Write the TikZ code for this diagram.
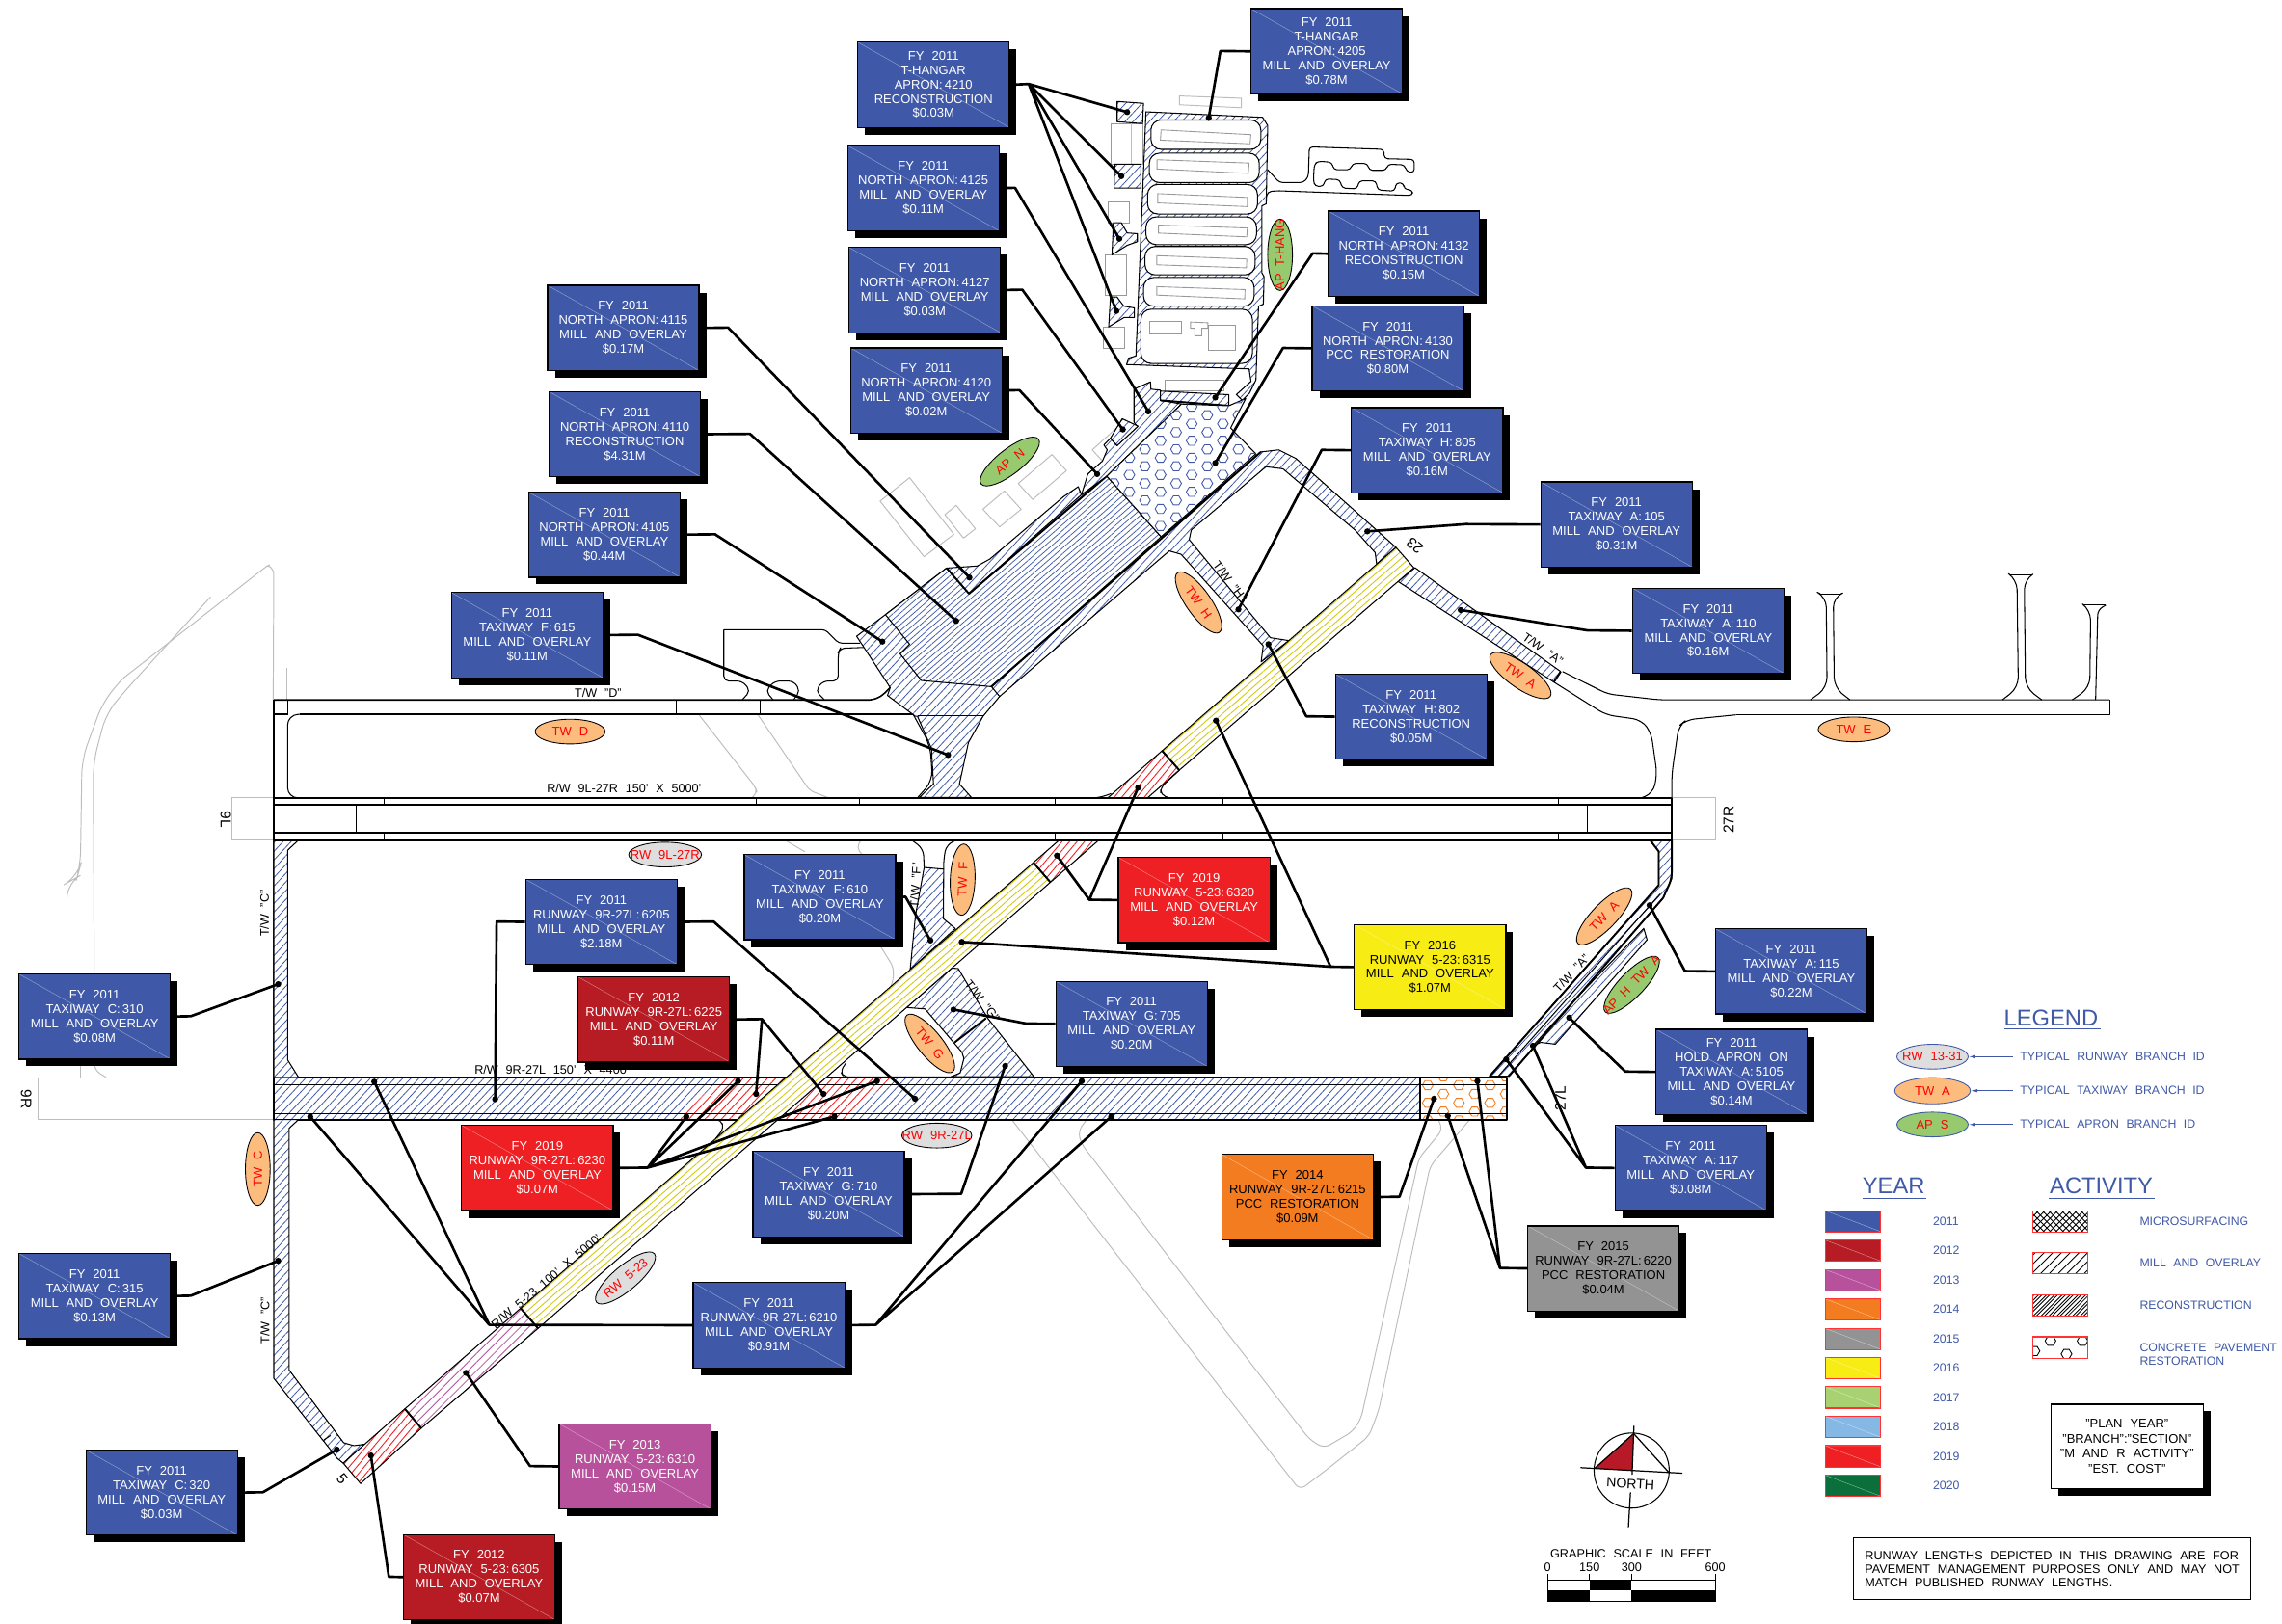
\documentclass[tikz,border=0pt]{standalone}
\usepackage{fontspec}
\setmainfont[WordSpace=2.2]{Liberation Sans}
\usetikzlibrary{shapes.geometric,patterns.meta,shadows,arrows.meta}
\definecolor{apblue}{HTML}{3F59A8}
\definecolor{cdred}{HTML}{B71C24}
\definecolor{cmag}{HTML}{B8519B}
\definecolor{corg}{HTML}{F47C20}
\definecolor{cgry}{HTML}{939393}
\definecolor{cyel}{HTML}{F7EC13}
\definecolor{cred}{HTML}{EE2024}
\definecolor{cgrn}{HTML}{A8D272}
\definecolor{clbl}{HTML}{85B8E5}
\definecolor{cdgn}{HTML}{0A6F3A}
\definecolor{ovorg}{HTML}{FCBC7E}
\definecolor{ovgrn}{HTML}{97CA6E}
\definecolor{ovgry}{HTML}{DEDEDE}
\definecolor{bggry}{HTML}{BDBDBD}
\newcommand\vu{0.030211cm}
\tikzset{
 x=\vu,y=-\vu,
 costbox/.style={rectangle,draw=black,line width=.7pt,fill=#1,minimum width=104*\vu,minimum height=58.5*\vu,inner sep=0pt,align=center,
   font=\fontsize{7.4}{8.5}\selectfont,text=white,
   drop shadow={shadow xshift=4.3pt,shadow yshift=-4.3pt,fill=black,opacity=1},
   path picture={\draw[white,opacity=.45,line width=.25pt] (path picture bounding box.north west)--(path picture bounding box.south east);}},
 conn/.style={line width=1.5pt,line join=round,black},
 pv/.style={draw=black,line width=.6pt,line join=round},
 pvt/.style={draw=black,line width=1.1pt,line join=round},
 gr/.style={draw=bggry,line width=.55pt,line join=round},
 bld/.style={draw=gray!80,line width=.5pt,fill=white},
 hatb/.style={pv,preaction={fill=white},pattern={Lines[angle=47,distance=3.5pt,line width=.45pt]},pattern color=apblue},
 hatd/.style={pv,preaction={fill=white},pattern={Lines[angle=41,distance=2.6pt,line width=.42pt]},pattern color=apblue},
 hatr/.style={pv,preaction={fill=white},pattern={Lines[angle=47,distance=3.5pt,line width=.5pt]},pattern color=cred},
 hatrr/.style={pv,preaction={fill=white},pattern={Lines[angle=50,distance=3.4pt,line width=.5pt]},pattern color=cred},
 haty/.style={pv,preaction={fill=white},pattern={Lines[angle=41,distance=3.1pt,line width=.5pt]},pattern color=cyel!85!black},
 hatm/.style={pv,preaction={fill=white},pattern={Lines[angle=45,distance=3.6pt,line width=.5pt]},pattern color=cmag},
 oval/.style={ellipse,draw=black,line width=.5pt,fill=#1,minimum width=49*\vu,minimum height=17*\vu,inner sep=0pt,text=red,font=\fontsize{7.4}{8}\selectfont},
 sm/.style={font=\fontsize{7.2}{8}\selectfont,inner sep=0pt},
 bg/.style={font=\fontsize{8.8}{9}\selectfont,inner sep=0pt},
 lg/.style={font=\fontsize{7}{8}\selectfont,inner sep=0pt,text=apblue,anchor=west,align=left},
 ttl/.style={font=\fontsize{13.5}{14}\selectfont,inner sep=0pt,text=apblue},
 ul/.style={draw=apblue,line width=.6pt},
 swb/.style={draw=red!80!white,line width=.6pt},
}
\newcommand\bx[6]{\node[costbox=#4,text=#5] (#1) at ({#2+52},{#3+29.25}) {#6};}
\newcommand\dt[3]{\coordinate (#1) at (#2,#3);\fill (#1) circle (2.1);}
\newcommand\ov[6]{\node[oval=#1,rotate=#4,minimum width=#5*\vu] (#6) at (#2,#3)}
\newcommand\hexa[3]{\draw[#1,line width=.5pt] ({#2-3.7},#3)--({#2-1.85},{#3-3.1})--({#2+1.85},{#3-3.1})--({#2+3.7},#3)--({#2+1.85},{#3+3.1})--({#2-1.85},{#3+3.1})--cycle;}
\begin{document}
\begin{tikzpicture}
\useasboundingbox (0,0) rectangle (1567,1114.85);
\fill[white] (0,0) rectangle (1567,1114.85);
% ---------- background gray lines
\draw[gr] (187.6,480.8)--(188,393)[rounded corners=2pt]--(185,388)--(183,389)--(83.9,466.4)[rounded corners=9pt]--(70.7,482)--(56.3,521.4)--(55.2,594.7)--(53,602.5)--(46,606.5)[sharp corners]--(46,668);
\draw[gr,rounded corners=9pt] (144.6,410)--(86.1,474.3)--(72.9,490)--(64,524)--(64.7,668);
\draw[gr] (197,458.6)--(197,480.8);
\draw[gr] (55.2,729)--(55.2,740);
\draw[gr,rounded corners=4pt] (64.7,730)--(64.7,735)--(72.9,740);
\draw[gr] (159,548) rectangle (188,577);
\draw[gr] (1148,548) rectangle (1178,577);
\draw[gr] (26.1,740.5) rectangle (188,769);
\draw[gr,rounded corners=3pt] (480,491)--(518.8,540.7)--(520,545)--(516,548);
\draw[gr,rounded corners=3pt] (520.5,491)--(556,543)--(567.8,547.5);
\draw[gr,rounded corners=3pt] (539,577)--(552.6,585);
\draw[gr,rounded corners=3pt] (591.4,577)--(588,582)--(592,587);
\draw[gr,rounded corners=3pt] (603.9,648.8)--(613.5,664.3)--(613.5,673)--(610.7,679.7);
\draw[gr,rounded corners=4pt] (695.1,769.5)--(892.6,1023.5)--(913.6,1007.4)--(940,986.5)--(946.7,968.8)--(982,801)--(1008.5,770);
\draw[gr,rounded corners=4pt] (745.9,769.5)--(740.3,776.8)--(742.5,785.6)--(899.2,988.7)--(909.2,994.8)--(929,983.1)--(934.6,974.3)--(974.3,795.6)--(990.8,775.7)--(987.5,769);
% buildings
\draw[gr] (624.6,328.1)--(655,367)--(634.5,382.4)--(604.3,344.2)--cycle;
\draw[gr] (656.6,347.1)--(669.8,363.2)--(661.6,369.6)--(648.8,353.5)--cycle;
\draw[gr] (689.7,337.2)--(701.2,349.8)--(686.4,361.9)--(674.9,349.8)--cycle;
\draw[gr] (722.3,312.2)--(732.3,323.3)--(709.1,343.1)--(699.2,332.1)--cycle;
\draw[gr] (770,291)--(750,309)--(762,322);
\draw[gr] (809.9,65.9)--(852.4,67.5)--(852.4,74)--(809.9,72)--cycle;
% ---------- thin black taxiway outlines
\draw[pv,rounded corners=2pt] (497,432.5)--(566.7,432.5)--(576,441.8)--(590.4,441.8);
\draw[pv,rounded corners=3pt] (593.7,444.7)--(577,445.3)--(575.6,448)--(575.6,467.8)--(565,467.8)--(560,474.5)--(566,480.6);
\draw[pv,rounded corners=3pt] (497,432.5)--(497,467.8)--(509.8,467.8)--(515.3,474.5)--(509.8,480.6);
\draw[pv,rounded corners=3pt] (530.8,480.6)--(525.7,474.5)--(531.9,467.8)--(545,467.8)--(549.5,474.5)--(545,480.6);
\draw[pv,line width=.9pt,rounded corners=5pt] (188,480.8)--(602.5,480.8)--(611.3,472.3);
\draw[pv,line width=.9pt] (188,490.6)--(197.5,490.6);
\draw[pv,line width=.9pt] (206,490.6)--(630,490.6);
\draw[pv,rounded corners=6pt] (207,490.6)--(197.5,491)--(197.5,548)--(207,548);
\draw[pv] (197.5,481)--(197.5,491);
\draw[pv,line width=.9pt] (188,480.8)--(188,741);
\draw[pv] (464.4,481)--(464.4,490.6);
\draw[pv] (522.2,481)--(522.2,490.6);
\draw[pv,rounded corners=6pt] (627,490.6)--(638.7,511.9)--(640.4,536.2)--(630.3,547.6);
% Taxiway E and stubs
\draw[pv,rounded corners=4pt] (1073,461.3)--(1104,476.7)--(1139.2,480.7)--(1448.6,480.7);
\draw[pv] (1448.6,480.7)--(1448.6,491)--(1192,491);
\draw[pv,rounded corners=5pt] (1192,491)--(1158,494.4)--(1152.7,498.8)--(1148,531.9)--(1148,548.4);
\draw[pv,rounded corners=5pt] (1067,468.5)--(1102.7,491)--(1127,494.4)--(1133.8,503.2)--(1137.9,531.9)--(1135,545)--(1127,548);
\draw[pv,rounded corners=6pt] (1250,407.9)--(1254,410)--(1254.6,472.3)--(1243.2,480.7);
\draw[pv,rounded corners=6pt] (1264,407.9)--(1258.9,410)--(1259.5,472.3)--(1270.3,480.7);
\draw[pv] (1250,407.9)--(1264,407.9);
\draw[pv,rounded corners=6pt] (1380.5,395)--(1385,398)--(1385.9,472.3)--(1375,480.7);
\draw[pv,rounded corners=6pt] (1395,395)--(1390,398)--(1390.8,472.3)--(1402,480.7);
\draw[pv] (1380.5,395)--(1395,395);
\draw[pv,rounded corners=6pt] (1431,415.6)--(1435.6,419)--(1435,472.3)--(1423,480.7);
\draw[pv,rounded corners=3pt] (1446,415.6)--(1440.5,419)--(1439,480.7);
\draw[pv] (1431,415.6)--(1446,415.6);
% comb
\draw[pv,rounded corners=2pt] (870.5,116.6)--(878.6,125.4)--(894.9,125.4)--(898.4,121.6)--(899.1,100.9)--(950.2,102.6)--(950.6,109)--(971.1,109.5)--(971.1,118.6)--(965.7,117.8)--(964.6,113.3)--(953,112.8)--(951.8,117)--(940.2,117)--(939,112.3)--(928.6,112.3)--(927.4,116.6)--(915.8,116.6)--(914.6,111.5)--(905.3,110.7)--(902.5,112.8)--(901.9,124.2)--(903,128)--(908.8,128)--(910,122.9)--(920,123.4)--(921.6,129.2)--(932,129.7)--(933.2,124.2)--(944.8,124.2)--(946,130.5)--(957.6,131.3)--(958.8,125.4)--(964.1,126)--(964.1,130)--(969.9,130.5)--(969.9,134.3)--(876.3,131)--(870.5,131.8)--(869.3,136.8);
% ---------- T-hangar apron
\path[hatb] (786.9,76.8)--(867,80.6)--(870.5,86.2)--(869.5,140)--(866.5,141.4)--(866.5,187.5)--(868,190)--(867.5,209)--(864.2,210.3)--(862.4,261)--(858,270)--(853,275)--(849,271)--(859,262)--(857.7,253.4)--(773.6,250.4)--(775,246)--(780,244.5)--cycle;
\foreach \a/\b/\c/\d in {790.3/82.4/865.8/102.6,789.2/105.2/864.7/125.4,788/126.7/863.5/147,786.9/149/862.8/168,786.2/169.3/861.9/188.8,785.2/190.6/861.2/210.3,783.4/212.4/860/249.6}
 \draw[pv,fill=white,rounded corners=6pt] (\a,\b) rectangle (\c,\d);
\draw[bld] (797.3,89.2)--(858.9,92.5)--(858.4,98.8)--(796.8,96.3)--cycle;
\draw[bld] (794.5,109.7)--(857.7,112)--(857.2,119.1)--(794.5,116.1)--cycle;
\draw[bld] (795,133)--(856.5,135.6)--(856.5,141.9)--(795,139.4)--cycle;
\draw[bld] (795.5,154.6)--(856.5,156.6)--(856.1,162.7)--(795.5,160.1)--cycle;
\draw[bld] (794.3,175.6)--(856.1,177.9)--(855.9,184)--(794.3,181.9)--cycle;
\draw[bld] (794.3,196.9)--(854.9,198.9)--(854.7,205.3)--(794.3,202.7)--cycle;
\draw[bld] (789.2,220.5) rectangle (811.3,229.3);
\draw[bld] (817.5,221.2)--(829.4,221.7)--(829.4,225.5)--(825.2,225.5)--(825.2,230.6)--(820.5,230.6)--(820.5,225.5)--(817.5,225.5)--cycle;
\draw[bld] (829.8,223.5) rectangle (848.4,240.7);
\draw[bld] (800.3,261) rectangle (840.3,268.6);
\draw[bld] (763.2,84.9) rectangle (784.5,112.8);
\draw[gr] (777.1,84.9)--(777.1,112.8);
\draw[bld] (760.8,138.9) rectangle (775.2,153.3);
\draw[bld] (759,174.8) rectangle (773.4,202.7);
\draw[bld] (757.8,225) rectangle (772.2,239.5);
% spurs
\path[hatb] (767.1,69.7)--(785.2,71)--(784.6,84.9)--(767.1,83.6)--cycle;
\path[hatb] (765.5,112.8)--(783.4,112.8)--(783.4,129.2)--(765,129.2)--cycle;
\path[hatb] (764.5,153)--(770,153)--(774,160)--(781,160.5)--(781,166)--(774,168.5)--(763.6,175)--cycle;
\path[hatb] (762.5,204)--(767,204)--(771.7,210.3)--(779,211.5)--(779,218)--(772,218)--(761.3,224.5)--cycle;
% ---------- runway 9R-27L
\draw[pvt,fill=white] (188,740) rectangle (1035,769);
\path[hatb,draw=none] (188,740) rectangle (975,769);
\path[hatr,draw=none,preaction={fill=white}] (496,740)--(540,740)--(506.6,769)--(465.6,769)--cycle;
\path[hatr,draw=none,preaction={fill=white}] (567.3,740)--(613.7,740)--(579.4,769)--(534,769)--cycle;
\draw[fill=white,draw=none] (975,740) rectangle (1035,769);
\begin{scope}
 \clip (975,740) rectangle (1035,769);
 \foreach \k in {0,...,5} \foreach \m in {0,...,3} {
  \pgfmathsetmacro\hx{980.4+\k*10.7}
  \pgfmathsetmacro\hy{733.3+\m*12.1+mod(\k,2)*6}
  \hexa{corg}{\hx}{\hy}}
\end{scope}
\draw[pvt,line width=.9pt] (188,740)--(1035,740);
\draw[pvt,line width=.9pt] (188,745)--(1035,745);
\draw[pvt,line width=.9pt] (188,765)--(1035,765);
\draw[pvt,line width=.9pt] (188,769)--(1035,769);
\draw[pvt] (975,740)--(975,769);
\draw[pvt] (1035,740)--(1035,769);
\draw[pvt] (188,740)--(188,769);
% ---------- taxiway C
\path[hatb] (188,577)--(205,577)--(197.5,584)--(197.5,728)--(205,740)--(188,740)--cycle;
\path[hatb] (188,769)--(205,769)--(198.5,775)--(198.5,941)--(236,991)--(243,993)--(250.6,992)--(235.7,1005)--(231.7,1001.8)--(188,946.7)--cycle;
\draw[pv] (222.4,989.1)--(226.9,986);
% ---------- taxiway G and F
\path[hatb] (653.6,665)--(658,665.3)--(678.3,699.5)--(710,739.6)--(653,739.6)--(659.3,737)--(661.9,727)--(660.5,722.7)--(635.2,693)--(622.5,692)--cycle;
\draw[pvt] (655.5,716)--(677,699.5);
\draw[pv,rounded corners=3pt] (653,739.8)--(579.5,739.8)--(577,736)--(581,730);
\path[hatb] (634.6,595.8)--(648,597)--(647.8,631)--(656,637.8)--(625,666)--(628.6,629)--cycle;
\draw[pv,rounded corners=4pt] (626,577)--(634,583)--(634.6,596);
\draw[pv,rounded corners=4pt] (657,577)--(650,580)--(648,590)--(648,597);
\draw[pv,rounded corners=3pt] (470,769)--(495,769)--(497,775)--(491.5,782);
% ---------- taxiway A lower
\path[hatb] (1133,577)--(1148,577)--(1148,603.5)--(1142,616.8)--(1036,739.3)--(1022.8,739.3)--(1139,608)--(1139,584.8)--cycle;
\path[hatb] (1128.7,637.7)--(1131,645.5)--(1068,717.2)--(1058,716)--(1052.6,718.3)--(1080,688)--cycle;
\draw[pvt] (1022.8,739.3)--(1139,608)--(1139,584.8)--(1133,577);
\draw[pvt] (1036,739.3)--(1142,616.8);
\draw[pv] (1029,739)--(1140,614);
\draw[pvt,rounded corners=4pt] (1148,577)--(1148,603.5)--(1142,616.8);
% ---------- apron & band (regular hatch)
\path[hatb] (588.2,437)--(608,422.2)--(650,390.2)--(671,388.8)--(679.7,384)--(730.5,341)--(740.4,334.3)--(742.6,339.8)--(760,327)--(797.3,368.7)--(865.8,310.4)--(878,309)--(890,315)--(958.6,376)--(945.3,387.5)--(944.3,379.6)--(930.5,364.1)--(881,322)--(869.3,320.6)--(818,364)--(816.6,370.7)--(872.3,438)--(885,440)--(866,454.6)--(867.4,443.6)--(811,380.7)--(802.9,378.4)--(686.4,478.4)--(675,492)--(665,510)--(658.8,538.5)--(667,547.7)--(631.3,547.7)--(641,538.5)--(639.6,514)--(630,492)--(628.6,492)--(609.4,477.7)--(611.3,472.3)--cycle;
\draw[pv] (630,491.5)--(676,491.5);
% dense apron
\path[hatd] (608,422.2)--(624.6,442.5)--(618,449)--(632.7,467.4)--(680.8,471.6)--(797.3,368.7)--(760,327)--(742.6,339.8)--(665.4,407.8)--(650,390.2)--cycle;
\draw[pvt] (650,390.2)--(665.4,407.8)--(760,327);
\draw[pvt] (680.8,471.6)--(865.8,310.4);
\draw[pv] (680.8,471.6)--(686.4,478.4);
% strip
\path[hatb] (742.6,339.8)--(747,325.5)--(757,316.7)--(760.3,309)--(758,305.6)--(762.5,301)--(767,306)--(781,293)--(778.7,290)--(778.7,267.3)--(790,262.3)--(790.3,267.3)--(796.8,268)--(796.8,275)--(811.3,277.5)--(760,327)--cycle;
\path[hatb] (770.6,287.6)--(781.5,292.7)--(767.1,306.1)--(762.5,301)--cycle;
\path[hatb] (796.8,268.6)--(843.8,271.1)--(843.8,278.7)--(796.8,275)--cycle;
\draw[pvt] (796.8,275)--(843.8,278.7);
% hex
\draw[pv,fill=white] (760,327)--(811.3,277.5)--(843.8,278.7)--(855.4,273.7)--(845,294)--(862.4,311.7)--(797.3,368.7)--cycle;
\begin{scope}
 \clip (760,327)--(811.3,277.5)--(843.8,278.7)--(855.4,273.7)--(845,294)--(862.4,311.7)--(797.3,368.7)--cycle;
 \foreach \k in {0,...,10} \foreach \m in {0,...,9} {
  \pgfmathsetmacro\hx{764.8+\k*10.7}
  \pgfmathsetmacro\hy{273.5+\m*11.7+mod(\k,2)*5.85}
  \hexa{apblue}{\hx}{\hy}}
\end{scope}
% ---------- taxiway A upper
\path[hatb] (971.7,390)--(1071.7,461.3)--(1067,468.5)--(960,399.4)--cycle;
\draw[pvt] (1071.7,461.3)--(1067,468.5);
% ---------- runway 5-23
\path[hatrr] (235.7,1005)--(278,967.7)--(289.3,981)--(247.6,1019)--cycle;
\path[hatm] (278,967.7)--(357.5,898.6)--(369.5,912.4)--(289.3,981)--cycle;
\path[haty] (357.5,898.6)--(709.6,592.5)--(721.3,606)--(369.5,912.4)--cycle;
\path[hatrr] (709.6,592.5)--(727.4,577)--(754.6,577)--(721.3,606)--cycle;
\path[hatrr] (760.7,548)--(798,515.7)--(809.8,529)--(788,548)--cycle;
\path[haty] (798,515.7)--(958.6,376)--(970.9,390)--(809.8,529)--cycle;
\draw[pvt] (278,967.7)--(289.3,981) (357.5,898.6)--(369.5,912.4) (709.6,592.5)--(721.3,606) (798,515.7)--(809.8,529);
\draw[pv,rounded corners=3pt] (752,548)--(758,547)--(763,545);
\draw[pv,rounded corners=3pt] (809.8,529)--(797,541)--(797,546)--(803,548);
\draw[pv] (709,577)--(727.4,577);
% ---------- runway 9L-27R
\fill[white] (188,548) rectangle (1148,577);
\draw[pvt] (188,548)--(1148,548) (188,553)--(1148,553) (188,572)--(1148,572) (188,577)--(1148,577);
\draw[pvt] (188,548)--(188,577) (1148,548)--(1148,577);
\foreach \xa in {263.6,519.4,590.4,724.6,840,1070} \draw[pv] (\xa,548)--(\xa,553);
\foreach \xa in {263.6,724.6,840,1070} \draw[pv] (\xa,572)--(\xa,577);
\draw[pv] (244.5,553)--(244.5,572) (1090,553)--(1090,572);
% ---------- small labels
\node[sm] (t1) at (410.7,476) {T/W "D"};
\node[sm] (t2) at (428.6,541.7) {R/W 9L-27R 150' X 5000'};
\node[bg,rotate=-90] (t3) at (155,563) {9L};
\node[bg,rotate=90] (t4) at (1187,563) {27R};
\node[bg,rotate=-90] (t5) at (18,755) {9R};
\node[bg,rotate=90] (t6) at (1071.4,754.3) {27L};
\node[bg,rotate=140] (t7) at (971.6,375) {23};
\node[bg,rotate=-50] (t8) at (235,1015.6) {5};
\node[sm,rotate=-53] (t9) at (844.6,399.4) {T/W "H"};
\node[sm,rotate=-35] (t10) at (1059.5,445.8) {T/W "A"};
\node[sm,rotate=87] (t11) at (628.6,608) {T/W "F"};
\node[sm,rotate=-52] (t12) at (674.5,687.4) {T/W "G"};
\node[sm,rotate=47] (t13) at (1079,668.6) {T/W "A"};
\node[sm,rotate=90] (t14) at (181.7,627.4) {T/W "C"};
\node[sm,rotate=90] (t15) at (182,907) {T/W "C"};
\node[sm] (t16) at (379,735) {R/W 9R-27L 150' X 4400'};
\node[sm,rotate=40] (t17) at (375,880) {R/W 5-23 100' X 5000'};
% ---------- ovals
\ov{ovorg}{391.5}{502.5}{0}{48}{o1} {TW D};
\ov{ovgry}{456.7}{587}{0}{50}{o2} {\makebox[0pt]{RW 9L-27R}};
\ov{ovorg}{1273}{501}{0}{49}{o3} {TW E};
\ov{ovorg}{1044}{464}{-35}{50}{o4} {TW A};
\ov{ovorg}{823}{413.8}{-55}{50}{o5} {TW H};
\ov{ovgrn}{693.4}{317}{38}{50}{o6} {AP N};
\ov{ovgrn}{879}{175}{90}{49}{o7} {\makebox[0pt]{AP T-HANG}};
\ov{ovorg}{661}{604.2}{88}{49}{o8} {TW F};
\ov{ovorg}{1101.6}{629.4}{46}{52}{o9} {TW A};
\ov{ovgrn}{1120.4}{676.4}{46}{52}{o10} {\makebox[0pt]{AP H TW A}};
\ov{ovorg}{638.5}{716.7}{-51}{50}{o11} {TW G};
\ov{ovorg}{177}{803}{90}{50}{o12} {TW C};
\ov{ovgry}{643.3}{780}{0}{48}{o13} {\makebox[0pt]{RW 9R-27L}};
\ov{ovgry}{429.5}{877.8}{40}{50}{o14} {RW 5-23};
% ---------- cost boxes
\bx{bA}{859}{6}{apblue}{white}{FY 2011\\T-HANGAR\\APRON:\,4205\\MILL AND OVERLAY\\\$0.78M}
\bx{bB}{589}{29}{apblue}{white}{FY 2011\\T-HANGAR\\APRON:\,4210\\RECONSTRUCTION\\\$0.03M}
\bx{bC}{582}{100}{apblue}{white}{FY 2011\\NORTH APRON:\,4125\\MILL AND OVERLAY\\\$0.11M}
\bx{bD}{583}{170}{apblue}{white}{FY 2011\\NORTH APRON:\,4127\\MILL AND OVERLAY\\\$0.03M}
\bx{bE}{584}{239}{apblue}{white}{FY 2011\\NORTH APRON:\,4120\\MILL AND OVERLAY\\\$0.02M}
\bx{bF}{912}{145}{apblue}{white}{FY 2011\\NORTH APRON:\,4132\\RECONSTRUCTION\\\$0.15M}
\bx{bG}{901}{210}{apblue}{white}{FY 2011\\NORTH APRON:\,4130\\PCC RESTORATION\\\$0.80M}
\bx{bH}{928}{280}{apblue}{white}{FY 2011\\TAXIWAY H:\,805\\MILL AND OVERLAY\\\$0.16M}
\bx{bI}{376}{196}{apblue}{white}{FY 2011\\NORTH APRON:\,4115\\MILL AND OVERLAY\\\$0.17M}
\bx{bJ}{377}{269}{apblue}{white}{FY 2011\\NORTH APRON:\,4110\\RECONSTRUCTION\\\$4.31M}
\bx{bK}{363}{338}{apblue}{white}{FY 2011\\NORTH APRON:\,4105\\MILL AND OVERLAY\\\$0.44M}
\bx{bL}{310}{407}{apblue}{white}{FY 2011\\TAXIWAY F:\,615\\MILL AND OVERLAY\\\$0.11M}
\bx{bM}{1058}{331}{apblue}{white}{FY 2011\\TAXIWAY A:\,105\\MILL AND OVERLAY\\\$0.31M}
\bx{bN}{1121}{404}{apblue}{white}{FY 2011\\TAXIWAY A:\,110\\MILL AND OVERLAY\\\$0.16M}
\bx{bO}{917}{463}{apblue}{white}{FY 2011\\TAXIWAY H:\,802\\RECONSTRUCTION\\\$0.05M}
\bx{bP}{511}{587}{apblue}{white}{FY 2011\\TAXIWAY F:\,610\\MILL AND OVERLAY\\\$0.20M}
\bx{bQ}{768}{589}{cred}{white}{FY 2019\\RUNWAY 5-23:\,6320\\MILL AND OVERLAY\\\$0.12M}
\bx{bR}{930}{635}{cyel}{black}{FY 2016\\RUNWAY 5-23:\,6315\\MILL AND OVERLAY\\\$1.07M}
\bx{bS}{361}{604}{apblue}{white}{FY 2011\\RUNWAY 9R-27L:\,6205\\MILL AND OVERLAY\\\$2.18M}
\bx{bT}{1178}{638}{apblue}{white}{FY 2011\\TAXIWAY A:\,115\\MILL AND OVERLAY\\\$0.22M}
\bx{bU}{13}{669}{apblue}{white}{FY 2011\\TAXIWAY C:\,310\\MILL AND OVERLAY\\\$0.08M}
\bx{bV}{725}{674}{apblue}{white}{FY 2011\\TAXIWAY G:\,705\\MILL AND OVERLAY\\\$0.20M}
\bx{bW}{397}{671}{cdred}{white}{FY 2012\\RUNWAY 9R-27L:\,6225\\MILL AND OVERLAY\\\$0.11M}
\bx{bX}{1137}{707}{apblue}{white}{FY 2011\\HOLD APRON ON\\TAXIWAY A:\,5105\\MILL AND OVERLAY\\\$0.14M}
\bx{bY}{317}{773}{cred}{white}{FY 2019\\RUNWAY 9R-27L:\,6230\\MILL AND OVERLAY\\\$0.07M}
\bx{bZ}{517}{791}{apblue}{white}{FY 2011\\TAXIWAY G:\,710\\MILL AND OVERLAY\\\$0.20M}
\bx{bAA}{1109}{773}{apblue}{white}{FY 2011\\TAXIWAY A:\,117\\MILL AND OVERLAY\\\$0.08M}
\bx{bAB}{839}{793}{corg}{black}{FY 2014\\RUNWAY 9R-27L:\,6215\\PCC RESTORATION\\\$0.09M}
\bx{bAC}{1049}{842}{cgry}{black}{FY 2015\\RUNWAY 9R-27L:\,6220\\PCC RESTORATION\\\$0.04M}
\bx{bAD}{13}{861}{apblue}{white}{FY 2011\\TAXIWAY C:\,315\\MILL AND OVERLAY\\\$0.13M}
\bx{bAE}{476}{881}{apblue}{white}{FY 2011\\RUNWAY 9R-27L:\,6210\\MILL AND OVERLAY\\\$0.91M}
\bx{bAF}{384}{978}{cmag}{white}{FY 2013\\RUNWAY 5-23:\,6310\\MILL AND OVERLAY\\\$0.15M}
\bx{bAG}{59}{996}{apblue}{white}{FY 2011\\TAXIWAY C:\,320\\MILL AND OVERLAY\\\$0.03M}
\bx{bAH}{277}{1054}{cdred}{white}{FY 2012\\RUNWAY 5-23:\,6305\\MILL AND OVERLAY\\\$0.07M}
% ---------- connectors
\dt{dA}{830}{81} \draw[conn] (bA.west)--(838,35)--(dA);
\dt{dB1}{774}{77} \dt{dB2}{770}{121} \dt{dB3}{768.6}{164} \dt{dB4}{766.6}{213.6}
\coordinate (eB) at (706.4,57.7);
\draw[conn] (bB.east)--(eB)--(dB1) (eB)--(dB2) (eB)--(dB3) (eB)--(dB4);
\dt{dC}{788.5}{282.6} \draw[conn] (bC.east)--(697,129)--(dC);
\dt{dD}{771}{295} \draw[conn] (bD.east)--(702,199)--(dD);
\dt{dE}{753.4}{325.6} \draw[conn] (bE.east)--(700,268)--(dE);
\dt{dF}{834.5}{273} \draw[conn] (bF.west)--(901.4,174)--(dF);
\dt{dG}{834.5}{318} \draw[conn] (bG.west)--(881,239)--(dG);
\dt{dH}{850.4}{418.6} \draw[conn] (bH.west)--(907.6,309)--(dH);
\dt{dI}{665.7}{396.7} \draw[conn] (bI.east)--(500,225)--(dI);
\dt{dJ}{656.6}{426.5} \draw[conn] (bJ.east)--(515,298)--(dJ);
\dt{dK}{605.9}{440.7} \draw[conn] (bK.east)--(491,367)--(dK);
\dt{dL}{651}{518.6} \draw[conn] (bL.east)--(438,436)--(dL);
\dt{dM}{938.9}{365} \draw[conn] (bM.west)--(1006.4,360)--(dM);
\dt{dN}{1003}{419} \draw[conn] (bN.west)--(1090,433)--(dN);
\dt{dO}{871}{442.5} \draw[conn] (bO.west)--(897,492)--(dO);
\dt{dP}{638.9}{646} \draw[conn] (bP.east)--(621.8,616)--(dP);
\dt{dQ1}{725.8}{587.7} \dt{dQ2}{781.5}{541} \coordinate (eQ) at (748,618);
\draw[conn] (bQ.west)--(eQ)--(dQ1) (eQ)--(dQ2);
\dt{dR1}{835}{495} \dt{dR2}{660.4}{647} \coordinate (eR) at (913.7,664);
\draw[conn] (bR.west)--(eR)--(dR1) (eR)--(dR2);
\dt{dS1}{628.3}{754.7} \dt{dS2}{340}{755}
\draw[conn] (bS.east)--(490,633)--(dS1);
\draw[conn] (bS.west)--(341,633)--(dS2);
\dt{dT}{1132.7}{621.8} \draw[conn] (bT.west)--(1157,667)--(dT);
\dt{dU}{191}{676} \draw[conn] (bU.east)--(131,698)--(dU);
\dt{dV}{654.7}{693.4} \draw[conn] (bV.west)--(704.4,703)--(dV);
\dt{dW1}{519.2}{751.4} \dt{dW2}{565.5}{751.4} \coordinate (eW) at (523.2,700);
\draw[conn] (bW.east)--(eW)--(dW1) (eW)--(dW2);
\dt{dX}{1077.5}{699} \draw[conn] (bX.west)--(1116,736)--(dX);
\dt{dY1}{506.8}{742.6} \dt{dY2}{471.3}{766.9} \dt{dY3}{602.2}{742.6} \dt{dY4}{573}{766.9} \coordinate (eY) at (444.7,802);
\draw[conn] (bY.east)--(eY)--(dY1) (eY)--(dY2) (eY)--(dY3) (eY)--(dY4);
\dt{dZ}{690.2}{732.2} \draw[conn] (bZ.east)--(660,820)--(dZ);
\dt{dAA1}{1034.3}{727.6} \dt{dAA2}{1052.6}{718.3} \coordinate (eAA) at (1089,802);
\draw[conn] (bAA.west)--(eAA)--(dAA1) (eAA)--(dAA2);
\dt{dAB}{984.7}{754.7} \draw[conn] (bAB.east)--(961,822)--(dAB);
\dt{dAC1}{994.2}{766.4} \dt{dAC2}{1014.5}{742.6} \coordinate (eAC) at (1030,871);
\draw[conn] (bAC.west)--(eAC)--(dAC1) (eAC)--(dAC2);
\dt{dAD}{191}{866} \draw[conn] (bAD.east)--(131,890)--(dAD);
\dt{dAE1}{257}{743} \dt{dAE2}{213}{767} \dt{dAE3}{742.8}{742.6} \dt{dAE4}{763}{767}
\coordinate (eAEw) at (336,910); \coordinate (eAEe) at (601.3,910);
\draw[conn] (bAE.west)--(eAEw)--(dAE1) (eAEw)--(dAE2);
\draw[conn] (bAE.east)--(eAEe)--(dAE3) (eAEe)--(dAE4);
\dt{dAF}{320}{943} \draw[conn] (bAF.west)--(364,1007)--(dAF);
\dt{dAG}{231.3}{995.7} \draw[conn] (bAG.east)--(180.5,1025)--(dAG);
\dt{dAH}{254.7}{999.7} \draw[conn] (bAH.west)--(267,1083)--(dAH);
% ---------- legend
\node[ttl] (lgT) at (1408.4,699) {LEGEND};
\draw[ul] (1376,706.8)--(1442.4,706.8);
\node[oval=ovgry,draw=apblue,minimum width=49*\vu] (l1) at (1327,725.8) {\makebox[0pt]{RW 13-31}};
\node[oval=ovorg,draw=apblue,minimum width=52*\vu,minimum height=18*\vu] (l2) at (1327,749.2) {TW A};
\node[oval=ovgrn,draw=apblue,minimum width=49*\vu] (l3) at (1327,772.4) {AP S};
\coordinate (a1) at (1382.2,725.8);\coordinate (a2) at (1382.2,749.2);\coordinate (a3) at (1382.2,772.4);
\draw[apblue,line width=.5pt,-{Latex[length=4pt,width=2pt]}] (a1)--(l1.east);
\draw[apblue,line width=.5pt,-{Latex[length=4pt,width=2pt]}] (a2)--(l2.east);
\draw[apblue,line width=.5pt,-{Latex[length=4pt,width=2pt]}] (a3)--(l3.east);
\node[lg] (lt1) at (1387,725.8) {TYPICAL RUNWAY BRANCH ID};
\node[lg] (lt2) at (1387,749.2) {TYPICAL TAXIWAY BRANCH ID};
\node[lg] (lt3) at (1387,772.4) {TYPICAL APRON BRANCH ID};
\node[ttl] (yT) at (1300.3,814.5) {YEAR};
\draw[ul] (1278.9,823)--(1322.6,823);
\node[ttl] (aT) at (1442.9,814.5) {ACTIVITY};
\draw[ul] (1407,823)--(1479.3,823);
\foreach \yy/\cc/\lb in {838.8/apblue/2011,859/cdred/2012,879.3/cmag/2013,899.5/corg/2014,919.7/cgry/2015,939.6/cyel/2016,959.9/cgrn/2017,980/clbl/2018,1000.3/cred/2019,1020.5/cdgn/2020}{
 \draw[swb,fill=\cc] (1253.5,{\yy-7.3}) rectangle (1291.4,{\yy+7.3});
 \draw[white,opacity=.5,line width=.25pt] (1254,{\yy-7}) -- (1291,{\yy+7});
 \node[lg] at (1327.2,\yy) {\lb};
}
\begin{scope}
 \clip (1395.8,831.8) rectangle (1433.8,846.4);
 \foreach \s in {0,...,12} {
  \draw[black,line width=.5pt] ({1385+\s*4.4},846.4)--({1399.6+\s*4.4},831.8);
  \draw[black,line width=.5pt] ({1385+\s*4.4},831.8)--({1399.6+\s*4.4},846.4);}
\end{scope}
\draw[swb] (1395.8,831.8) rectangle (1433.8,846.4);
\begin{scope}
 \clip (1395.8,860.4) rectangle (1433.8,875);
 \foreach \s in {0,...,9} \draw[black,line width=.5pt] ({1383+\s*6},875)--({1397.6+\s*6},860.4);
\end{scope}
\draw[swb] (1395.8,860.4) rectangle (1433.8,875);
\begin{scope}
 \clip (1395.8,889.3) rectangle (1433.8,903.9);
 \foreach \s in {0,2,4,6,8,10,12,14,16,18,20} {
  \draw[black,line width=.5pt] ({1380+\s*2.7},903.9)--({1394.6+\s*2.7},889.3);
  \draw[black,line width=.5pt] ({1382.2+\s*2.7},903.9)--({1396.8+\s*2.7},889.3);}
\end{scope}
\draw[swb] (1395.8,889.3) rectangle (1433.8,903.9);
\begin{scope}
 \clip (1395.8,918.2) rectangle (1433.8,932.8);
 \hexa{black}{1397}{928}\hexa{black}{1408}{921}\hexa{black}{1419}{930}\hexa{black}{1430}{921}
\end{scope}
\draw[swb] (1395.8,918.2) rectangle (1433.8,932.8);
\node[lg] (ac1) at (1469.1,839.1) {MICROSURFACING};
\node[lg] (ac2) at (1469.1,867.7) {MILL AND OVERLAY};
\node[lg] (ac3) at (1469.1,896.6) {RECONSTRUCTION};
\node[lg,align=left] (ac4) at (1469.1,930.5) {CONCRETE PAVEMENT\\RESTORATION};
\node[rectangle,draw=black,line width=.7pt,fill=white,minimum width=104.4*\vu,minimum height=58*\vu,inner sep=0pt,align=center,font=\fontsize{7.4}{8.9}\selectfont,
 drop shadow={shadow xshift=4.3pt,shadow yshift=-4.3pt,fill=black,opacity=1}] (lbx) at (1460.6,993.5) {"PLAN YEAR"\\"BRANCH":"SECTION"\\"M AND R ACTIVITY"\\"EST. COST"};
\node[rectangle,draw=black,line width=.7pt,fill=white,minimum width=272.6*\vu,minimum height=42.4*\vu,inner sep=0pt,align=left,font=\fontsize{7.2}{8}\selectfont] (nbx) at (1409.2,1077.6) {RUNWAY LENGTHS DEPICTED IN THIS DRAWING ARE FOR\\PAVEMENT MANAGEMENT PURPOSES ONLY AND MAY NOT\\MATCH PUBLISHED RUNWAY LENGTHS.};
% ---------- north arrow
\draw[line width=.6pt] (1120.4,1010.1) circle (25.8);
\fill[cdred!90!purple] (1121.8,984.7)--(1095,1008.6)--(1120.7,1010.3)--cycle;
\draw[line width=.7pt] (1095,1008.6)--(1121.8,984.7)--(1146,1011.4);
\draw[line width=.7pt] (1085.3,1008.1)--(1155.3,1011.9);
\draw[line width=.7pt] (1122,979.4)--(1120.7,1013);
\draw[line width=.7pt] (1119.6,1025.1)--(1118.2,1049);
\node[sm,rotate=-3,font=\fontsize{8}{8}\selectfont] (nn) at (1119.6,1019.1) {NORTH};
% ---------- scale
\node[sm,font=\fontsize{7.2}{8}\selectfont] (sc) at (1120,1067) {GRAPHIC SCALE IN FEET};
\node[sm,font=\fontsize{7.2}{8}\selectfont] (s0) at (1062.6,1076.3) {0};
\node[sm,font=\fontsize{7.2}{8}\selectfont] (s1) at (1091.5,1076.3) {150};
\node[sm,font=\fontsize{7.2}{8}\selectfont] (s2) at (1120.4,1076.3) {300};
\node[sm,font=\fontsize{7.2}{8}\selectfont] (s3) at (1177.8,1076.3) {600};
\draw[line width=.6pt] (1062.6,1085.1) rectangle (1177.8,1099.7);
\fill (1091.5,1085.1) rectangle (1120.4,1092.4);
\fill (1062.6,1092.4) rectangle (1091.5,1099.7);
\fill (1120.4,1092.4) rectangle (1177.8,1099.7);
\draw[line width=.6pt] (1062.6,1081)--(1062.6,1085.1) (1091.5,1081)--(1091.5,1085.1) (1120.4,1081)--(1120.4,1085.1) (1177.8,1081)--(1177.8,1085.1);
\end{tikzpicture}
\end{document}
